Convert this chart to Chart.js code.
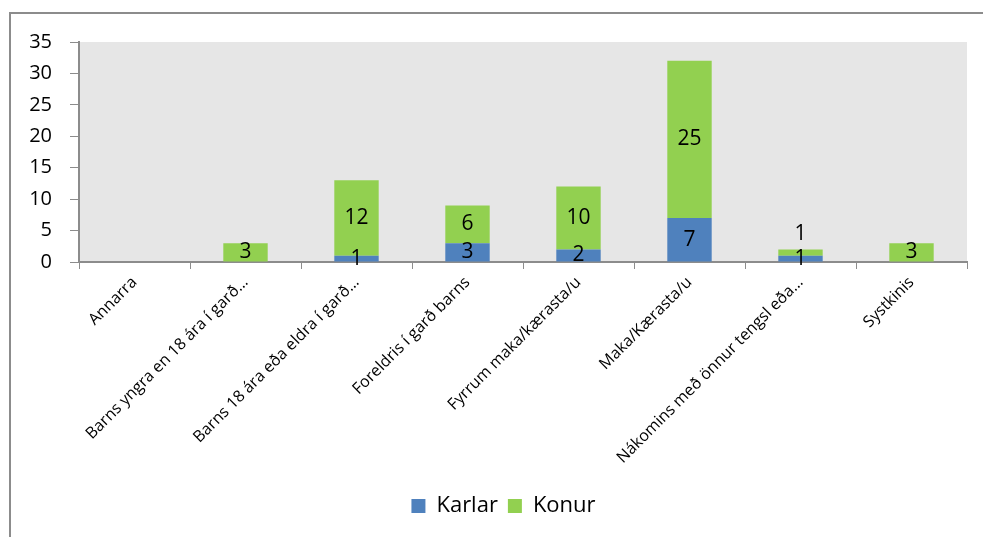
<!DOCTYPE html>
<html>
<head>
<meta charset="utf-8">
<script src="https://cdn.jsdelivr.net/npm/chart.js@4/dist/chart.umd.min.js"></script>
<style>
  html, body { margin: 0; padding: 0; background: #fff; overflow: hidden; }
  #frame { position: absolute; left: 9px; top: 12px; width: 1000px; height: 600px; border: 2px solid #8c8c8c; }
  #wrap { position: absolute; left: 0; top: 0; width: 983px; height: 537px; }
</style>
</head>
<body>
<div id="frame"></div>
<div id="wrap"><canvas id="chart"></canvas></div>
<script>
// Gögn lesin af myndinni
const categories = [
    'Annarra',
    'Barns yngra en 18 ára í garð…',
    'Barns 18 ára eða eldra í garð…',
    'Foreldris í garð barns',
    'Fyrrum maka/kærasta/u',
    'Maka/Kærasta/u',
    'Nákomins með önnur tengsl eða…',
    'Systkinis'
];
const karlar = [0, 0, 1, 3, 2, 7, 1, 0];
const konur = [0, 3, 12, 6, 10, 25, 1, 3];
const yTicks = [0, 5, 10, 15, 20, 25, 30, 35];

const FONT = '"Open Sans", "DejaVu Sans", sans-serif';
const axisColor = '#8c8c8c';

const plotBackground = {
    id: 'plotBackground',
    beforeDraw(chart) {
        const { ctx, chartArea } = chart;
        ctx.save();
        ctx.fillStyle = '#e6e6e6';
        ctx.fillRect(chartArea.left, chartArea.top, chartArea.right - chartArea.left, chartArea.bottom - chartArea.top);
        ctx.restore();
    }
};

// skýringin er aðeins hægra megin við miðju í upprunanum
const legendShift = {
    id: 'legendShift',
    afterLayout(chart) {
        if (chart.legend) {
            chart.legend.left += 20;
            chart.legend.right += 20;
        }
    }
};

const barLabels = {
    id: 'barLabels',
    afterDatasetsDraw(chart) {
        const ctx = chart.ctx;
        ctx.save();
        ctx.font = '21px ' + FONT;
        ctx.fillStyle = '#000';
        ctx.textAlign = 'center';
        ctx.textBaseline = 'middle';
        const last = chart.data.datasets.length - 1;
        chart.data.datasets.forEach((ds, di) => {
            const meta = chart.getDatasetMeta(di);
            meta.data.forEach((bar, i) => {
                const v = ds.data[i];
                if (!v) return;
                const h = Math.abs(bar.base - bar.y);
                let y = (bar.y + bar.base) / 2;
                if (di === last && h < 12) {
                    y = bar.y - 15;
                }
                ctx.fillText(String(v), bar.x, y);
            });
        });
        ctx.restore();
    }
};

new Chart(document.getElementById('chart'), {
    type: 'bar',
    data: {
        labels: categories,
        datasets: [
            { label: 'Karlar', data: karlar, backgroundColor: '#4f81bd', barPercentage: 0.4, categoryPercentage: 1 },
            { label: 'Konur', data: konur, backgroundColor: '#92d050', barPercentage: 0.4, categoryPercentage: 1 }
        ]
    },
    options: {
        responsive: true,
        maintainAspectRatio: false,
        animation: false,
        layout: { padding: { left: 0, top: 42, right: 16, bottom: 10 } },
        plugins: {
            legend: {
                position: 'bottom',
                labels: {
                    font: { family: FONT, size: 22 },
                    color: '#000',
                    boxWidth: 14,
                    boxHeight: 14,
                    padding: 10
                }
            },
            tooltip: { enabled: false }
        },
        scales: {
            x: {
                stacked: true,
                grid: { display: true, drawOnChartArea: false, offset: true, tickLength: 7, color: axisColor },
                border: { color: axisColor, width: 2 },
                ticks: {
                    color: '#000',
                    font: { family: FONT, size: 16 },
                    minRotation: 45,
                    maxRotation: 45,
                    autoSkip: false,
                    padding: 4
                },
                afterFit(scale) { scale.height = 223; }
            },
            y: {
                stacked: true,
                min: 0,
                max: 35,
                afterBuildTicks(scale) { scale.ticks = yTicks.map(v => ({ value: v })); },
                grid: { display: true, drawOnChartArea: false, tickLength: 9, color: axisColor },
                border: { color: axisColor, width: 2 },
                ticks: {
                    color: '#000',
                    font: { family: FONT, size: 20 },
                    padding: 18
                },
                afterFit(scale) { scale.width = 79; }
            }
        }
    },
    plugins: [plotBackground, legendShift, barLabels]
});
</script>
</body>
</html>
